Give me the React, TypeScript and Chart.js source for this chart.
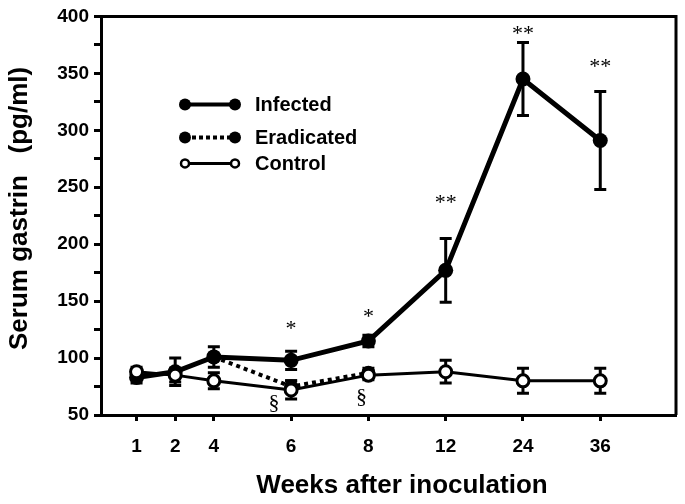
import React, { useEffect, useRef } from "react";
import { Chart, registerables } from "chart.js";

Chart.register(...registerables);

// ---- data ----
const weeks = ["1", "2", "4", "6", "8", "12", "24", "36"];
const weekAxisPos = [0, 0.5, 1, 2, 3, 4, 5, 6];
const infected = [83, 88, 101, 98, 115, 177, 345, 291];
const infectedErr = [5, 12, 9, 8, 5, 28, 32, 43];
const eradicated = [null, null, 101, 75, 87, null, null, null];
const eradicatedErr = [null, null, 0, 5, 4, null, null, null];
const control = [88, 85, 80, 72, 85, 88, 80, 80];
const controlErr = [4, 6, 7, 8, 4, 10, 11, 11];
const sigWeeks = ["6", "8", "12", "24", "36"];
const sigLabels = ["*", "*", "**", "**", "**"];
const sigValues = [130, 140, 240, 389, 360];
const sectionWeeks = ["6", "8"];
const sectionValues = [60, 66];
const yTicks = { min: 50, max: 400, step: 25, labelEvery: 50 };
const xTitle = "Weeks after inoculation";
const yTitle = "Serum gastrin   (pg/ml)";

const SANS = "'Liberation Sans', Arial, Helvetica, sans-serif";
const SERIF = "'Liberation Serif', 'Times New Roman', serif";

function toPoints(vals: (number | null)[]) {
  return vals.map((v, i) => ({ x: weekAxisPos[i], y: v }));
}

const extrasPlugin = {
  id: "extras",
  beforeDatasetsDraw(chart: any) {
    const { ctx, scales } = chart;
    const xs = scales.x;
    const ys = scales.y;
    const drawErr = (vals: (number | null)[], errs: (number | null)[]) => {
      vals.forEach((v, i) => {
        const e = errs[i];
        if (v == null || !e) return;
        const x = xs.getPixelForValue(weekAxisPos[i]);
        const yt = ys.getPixelForValue(v + e);
        const yb = ys.getPixelForValue(v - e);
        ctx.save();
        ctx.strokeStyle = "#000";
        ctx.lineWidth = 3;
        ctx.beginPath();
        ctx.moveTo(x, yt);
        ctx.lineTo(x, yb);
        ctx.moveTo(x - 6, yt);
        ctx.lineTo(x + 6, yt);
        ctx.moveTo(x - 6, yb);
        ctx.lineTo(x + 6, yb);
        ctx.stroke();
        ctx.restore();
      });
    };
    drawErr(eradicated, eradicatedErr);
    drawErr(infected, infectedErr);
    drawErr(control, controlErr);
  },
  afterDatasetsDraw(chart: any) {
    const { ctx, scales, chartArea } = chart;
    const xs = scales.x;
    const ys = scales.y;
    ctx.save();
    // frame top & right
    ctx.strokeStyle = "#000";
    ctx.lineWidth = 3;
    ctx.beginPath();
    ctx.moveTo(chartArea.left, chartArea.top);
    ctx.lineTo(chartArea.right, chartArea.top);
    ctx.lineTo(chartArea.right, chartArea.bottom);
    ctx.stroke();

    // axis titles
    ctx.fillStyle = "#000";
    ctx.textAlign = "center";
    ctx.textBaseline = "middle";
    ctx.font = `bold 26px ${SANS}`;
    ctx.fillText(xTitle, chartArea.left + 301, chartArea.bottom + 71);
    ctx.save();
    ctx.translate(20, chartArea.top + 192);
    ctx.rotate(-Math.PI / 2);
    ctx.font = `bold 26px ${SANS}`;
    ctx.fillText(yTitle, 0, 0);
    ctx.restore();

    // significance marks
    ctx.font = `22px ${SERIF}`;
    sigWeeks.forEach((w, k) => {
      const i = weeks.indexOf(w);
      const x = xs.getPixelForValue(weekAxisPos[i]);
      const y = ys.getPixelForValue(sigValues[k]);
      ctx.fillText(sigLabels[k], x, y + 5);
    });
    const secOffsets = [-17, -7];
    sectionWeeks.forEach((w, k) => {
      const i = weeks.indexOf(w);
      const x = xs.getPixelForValue(weekAxisPos[i]) + secOffsets[k];
      const y = ys.getPixelForValue(sectionValues[k]);
      ctx.fillText("§", x, y);
    });

    // legend
    const lx0 = chartArea.left + 84;
    const lx1 = chartArea.left + 134;
    const tx = chartArea.left + 154;
    const rows = [
      { label: "Infected", y: chartArea.top + 88, dash: [] as number[], open: false },
      { label: "Eradicated", y: chartArea.top + 121, dash: [4, 3], open: false },
      { label: "Control", y: chartArea.top + 147, dash: [] as number[], open: true },
    ];
    rows.forEach((r) => {
      ctx.save();
      ctx.strokeStyle = "#000";
      ctx.lineWidth = r.open ? 3 : 4;
      ctx.setLineDash(r.dash);
      ctx.beginPath();
      ctx.moveTo(lx0, r.y);
      ctx.lineTo(lx1, r.y);
      ctx.stroke();
      ctx.setLineDash([]);
      [lx0, lx1].forEach((cx) => {
        ctx.beginPath();
        if (r.open) {
          ctx.arc(cx, r.y, 4, 0, Math.PI * 2);
          ctx.fillStyle = "#fff";
          ctx.fill();
          ctx.lineWidth = 2.5;
          ctx.stroke();
        } else {
          ctx.arc(cx, r.y, 6, 0, Math.PI * 2);
          ctx.fillStyle = "#000";
          ctx.fill();
        }
      });
      ctx.fillStyle = "#000";
      ctx.font = `bold 20px ${SANS}`;
      ctx.textAlign = "left";
      ctx.textBaseline = "middle";
      ctx.fillText(r.label, tx, r.y + 1);
      ctx.restore();
    });
    ctx.restore();
  },
};

export default function App() {
  const canvasRef = useRef<HTMLCanvasElement | null>(null);

  useEffect(() => {
    document.body.style.margin = "0";
    const canvas = canvasRef.current;
    if (!canvas) return;
    const chart = new Chart(canvas, {
      type: "line",
      data: {
        datasets: [
          {
            label: "Control",
            data: toPoints(control),
            borderColor: "#000",
            borderWidth: 3,
            pointRadius: 6,
            pointBorderWidth: 3,
            pointBackgroundColor: "#fff",
            pointBorderColor: "#000",
            order: 0,
          },
          {
            label: "Infected",
            data: toPoints(infected),
            borderColor: "#000",
            borderWidth: 5,
            pointRadius: 7.5,
            pointBorderWidth: 0,
            pointBackgroundColor: "#000",
            pointBorderColor: "#000",
            order: 1,
          },
          {
            label: "Eradicated",
            data: toPoints(eradicated),
            borderColor: "#000",
            borderWidth: 4,
            borderDash: [4, 4],
            pointRadius: 7,
            pointBorderWidth: 0,
            pointBackgroundColor: "#000",
            spanGaps: false,
            order: 2,
          },
        ],
      },
      options: {
        animation: false,
        responsive: false,
        maintainAspectRatio: false,
        layout: { padding: { left: 0, right: 7, top: 15, bottom: 0 } },
        plugins: { legend: { display: false }, tooltip: { enabled: false } },
        scales: {
          x: {
            type: "linear",
            min: -0.46,
            max: 6.98,
            afterBuildTicks: (scale: any) => {
              scale.ticks = weekAxisPos.map((v) => ({ value: v }));
            },
            afterFit: (scale: any) => {
              scale.height = 89;
            },
            ticks: {
              autoSkip: false,
              maxRotation: 0,
              padding: 14,
              color: "#000",
              font: { family: SANS, size: 19, weight: "bold" },
              callback: (v: any) => {
                const i = weekAxisPos.indexOf(Number(v));
                return i >= 0 ? weeks[i] : "";
              },
            },
            grid: {
              display: true,
              drawOnChartArea: false,
              drawTicks: true,
              tickLength: 6,
              tickWidth: 3,
              tickColor: "#000",
            },
            border: { display: true, color: "#000", width: 3 },
            title: { display: false },
          },
          y: {
            min: yTicks.min,
            max: yTicks.max,
            afterFit: (scale: any) => {
              scale.width = 101;
            },
            ticks: {
              stepSize: yTicks.step,
              padding: 5,
              color: "#000",
              font: { family: SANS, size: 19, weight: "bold" },
              callback: (v: any) => (Number(v) % yTicks.labelEvery === 0 ? String(v) : ""),
            },
            grid: {
              display: true,
              drawOnChartArea: false,
              drawTicks: true,
              tickLength: 7,
              tickWidth: 3,
              tickColor: "#000",
            },
            border: { display: true, color: "#000", width: 3 },
            title: { display: false },
          },
        },
      },
      plugins: [extrasPlugin],
    } as any);
    return () => chart.destroy();
  }, []);

  return (
    <div style={{ width: 685, height: 504, background: "#fff" }}>
      <canvas ref={canvasRef} width={685} height={504} style={{ display: "block" }} />
    </div>
  );
}
